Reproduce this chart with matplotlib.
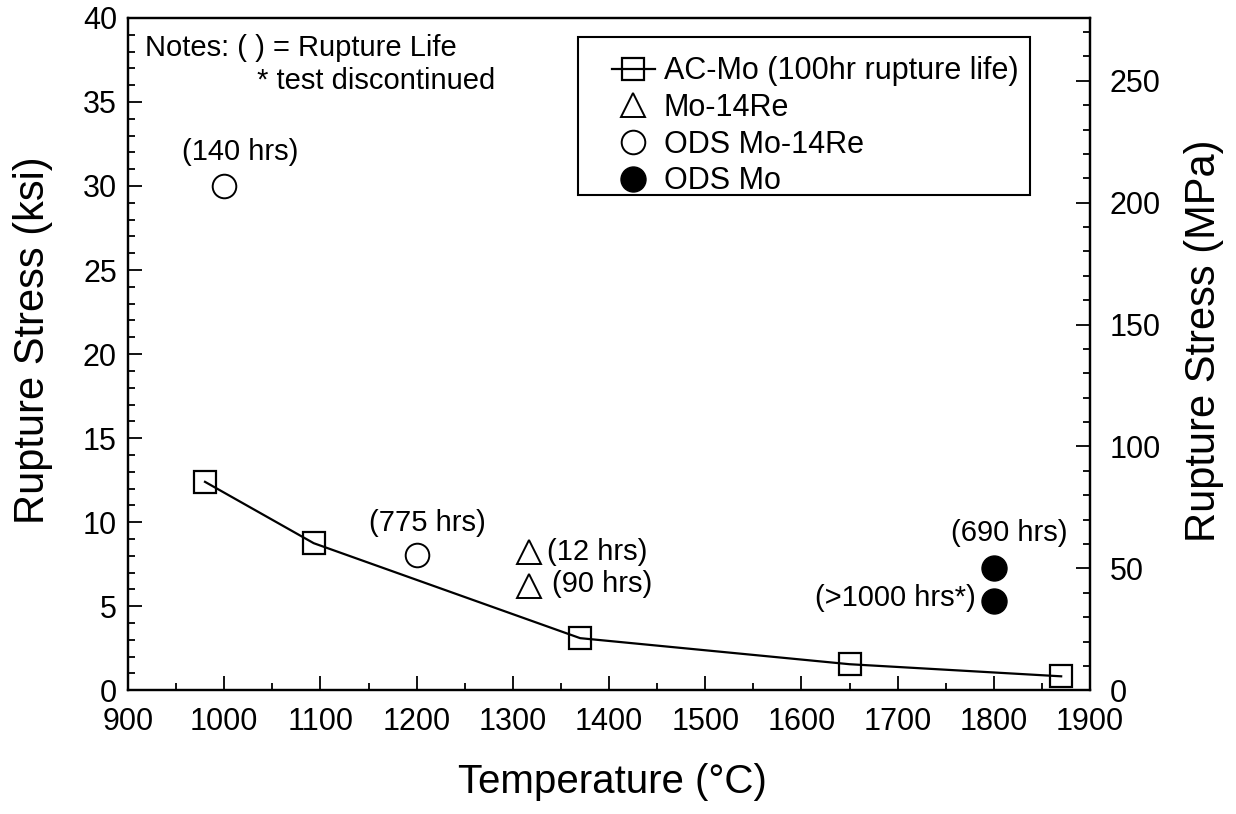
import numpy as np
import matplotlib
matplotlib.use('Agg')
import matplotlib.pyplot as plt
from matplotlib.ticker import MultipleLocator
from matplotlib.patches import Rectangle

plt.rcParams['font.family'] = ['Liberation Sans', 'DejaVu Sans']

# AC-Mo, 100 hr rupture life
acmo_temp = [980, 1093, 1370, 1650, 1870]
acmo_ksi = [12.4, 8.75, 3.1, 1.55, 0.83]

# Mo-14Re
mo14re_temp = [1317, 1317]
mo14re_ksi = [8.2, 6.2]
mo14re_labels = ['(12 hrs)', '(90 hrs)']

# ODS Mo-14Re
odsre_temp = [1000, 1200]
odsre_ksi = [30.0, 8.05]
odsre_labels = ['(140 hrs)', '(775 hrs)']

# ODS Mo
odsmo_temp = [1800, 1800]
odsmo_ksi = [7.3, 5.3]
odsmo_labels = ['(690 hrs)', '(>1000 hrs*)']

KSI_TO_MPA = 6.895

fig = plt.figure(figsize=(12.36, 8.14), dpi=100)
ax = fig.add_axes([0.1036, 0.152, 0.7783, 0.826])

ax.plot(acmo_temp, acmo_ksi, color='black', linewidth=1.6, marker='s',
        markersize=16, markerfacecolor='none', markeredgecolor='black',
        markeredgewidth=1.6, label='AC-Mo (100hr rupture life)')
ax.plot(mo14re_temp, mo14re_ksi, linestyle='none', marker='^', markersize=17,
        markerfacecolor='none', markeredgecolor='black', markeredgewidth=1.4,
        label='Mo-14Re')
ax.plot(odsre_temp, odsre_ksi, linestyle='none', marker='o', markersize=17,
        markerfacecolor='none', markeredgecolor='black', markeredgewidth=1.4,
        label='ODS Mo-14Re')
ax.plot(odsmo_temp, odsmo_ksi, linestyle='none', marker='o', markersize=18,
        markerfacecolor='black', markeredgecolor='black', label='ODS Mo')

# rupture life annotations
fs_note = 21
ax.text(1017, 32.0, odsre_labels[0], ha='center', va='center', fontsize=fs_note)
ax.text(1211, 9.95, odsre_labels[1], ha='center', va='center', fontsize=fs_note)
ax.text(1336, 8.25, mo14re_labels[0], ha='left', va='center', fontsize=fs_note)
ax.text(1341, 6.35, mo14re_labels[1], ha='left', va='center', fontsize=fs_note)
ax.text(1877, 9.35, odsmo_labels[0], ha='right', va='center', fontsize=fs_note)
ax.text(1781, 5.5, odsmo_labels[1], ha='right', va='center', fontsize=fs_note)

ax.text(0.018, 0.955, 'Notes: ( ) = Rupture Life', transform=ax.transAxes,
        ha='left', va='center', fontsize=fs_note)
ax.text(0.134, 0.906, '* test discontinued', transform=ax.transAxes,
        ha='left', va='center', fontsize=fs_note)

ax.set_xlim(900, 1900)
ax.set_ylim(0, 40)
ax.xaxis.set_major_locator(MultipleLocator(100))
ax.xaxis.set_minor_locator(MultipleLocator(50))
ax.yaxis.set_major_locator(MultipleLocator(5))
ax.yaxis.set_minor_locator(MultipleLocator(1))
ax.tick_params(which='both', direction='in', labelsize=22, width=1.3)
ax.tick_params(which='major', length=10, pad=8)
ax.tick_params(axis='x', which='major', pad=12)
ax.tick_params(which='minor', length=5)
ax.tick_params(axis='y', right=False)
ax.tick_params(axis='x', top=False)
for sp in ax.spines.values():
    sp.set_linewidth(1.6)

ax.set_xlabel('Temperature (°C)', fontsize=29)
ax.xaxis.set_label_coords(0.504, -0.108)
ax.set_ylabel('Rupture Stress (ksi)', fontsize=30)
ax.yaxis.set_label_coords(-0.078, 0.52)

ax2 = ax.twinx()
ax2.set_ylim(0, 40 * KSI_TO_MPA)
ax2.yaxis.set_major_locator(MultipleLocator(50))
ax2.yaxis.set_minor_locator(MultipleLocator(10))
ax2.tick_params(which='both', direction='in', labelsize=22, width=1.3)
ax2.tick_params(which='major', length=10, pad=14)
ax2.tick_params(which='minor', length=5)
ax2.set_ylabel('Rupture Stress (MPa)', fontsize=30)
ax2.yaxis.set_label_coords(1.098, 0.52)
for sp in ax2.spines.values():
    sp.set_linewidth(1.6)

# legend box (drawn separately, entries sit low inside it)
ax.add_patch(Rectangle((0.468, 0.737), 0.470, 0.235, transform=ax.transAxes,
                       facecolor='white', edgecolor='black', linewidth=1.5,
                       zorder=4))
leg = ax.legend(loc='upper left', bbox_to_anchor=(0.503, 0.943),
                borderaxespad=0, borderpad=0, fontsize=22, frameon=False,
                handlelength=1.4, handletextpad=0.3, labelspacing=0.22)
leg.set_zorder(5)

fig.savefig('out.png', dpi=100)
